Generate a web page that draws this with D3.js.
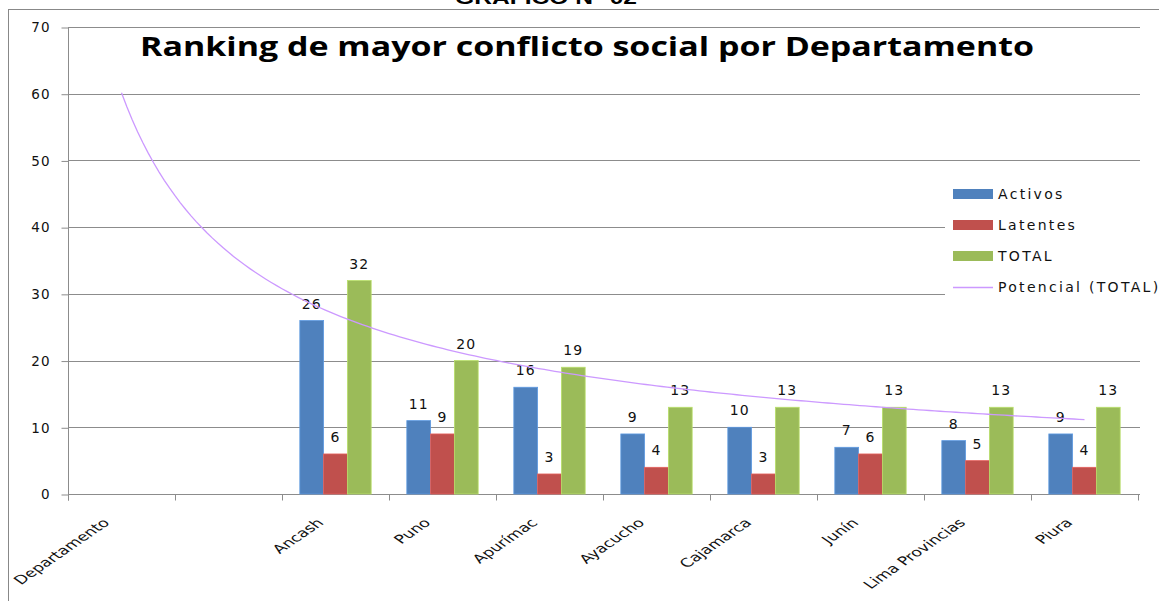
<!DOCTYPE html>
<html>
<head>
<meta charset="utf-8">
<script src="https://cdn.jsdelivr.net/npm/d3@7"></script>
<style>
  body { margin: 0; background: #fff; }
  svg { display: block; }
</style>
</head>
<body>
<script>
const categories = ['Departamento', '', 'Ancash', 'Puno', 'Apurímac', 'Ayacucho', 'Cajamarca', 'Junín', 'Lima Provincias', 'Piura'],
    activos = [null, null, 26, 11, 16, 9, 10, 7, 8, 9],
    latentes = [null, null, 6, 9, 3, 4, 3, 6, 5, 4],
    total = [null, null, 32, 20, 19, 13, 13, 13, 13, 13],
    yTicks = [0, 10, 20, 30, 40, 50, 60, 70],
    seriesNames = ['Activos', 'Latentes', 'TOTAL'],
    trendName = 'Potencial (TOTAL)';

const width = 1159,
    height = 601,
    plot = { left: 68, right: 1138, top: 27, bottom: 494 },
    colors = ['#4f81bd', '#c0504d', '#9bbb59'],
    trendColor = '#cc99ff',
    gridColor = '#8c8c8c',
    stretch = 1.45, // the scan is wider than tall, labels look stretched
    font = '"DejaVu Sans", Verdana, sans-serif';

const svg = d3.select('body').append('svg')
    .attr('width', width)
    .attr('height', height);

// top caption, cut by the page edge like in the scan
svg.append('text')
    .text('GRÁFICO N° 02')
    .attr('x', 455)
    .attr('y', 4)
    .attr('textLength', 182)
    .attr('lengthAdjust', 'spacingAndGlyphs')
    .attr('font-family', '"Liberation Sans", Arial, sans-serif')
    .attr('font-weight', 'bold')
    .attr('font-size', 19);

// chart frame
svg.append('rect')
    .attr('x', 8.5)
    .attr('y', 9.5)
    .attr('width', width)
    .attr('height', height)
    .attr('fill', 'none')
    .attr('stroke', '#888')
    .attr('stroke-width', 1);

const x = d3.scaleBand()
    .domain(d3.range(categories.length))
    .range([plot.left, plot.right])
    .paddingInner(0)
    .paddingOuter(0);

const y = d3.scaleLinear()
    .domain([0, 70])
    .range([plot.bottom, plot.top]);

const barW = x.bandwidth() / 4.5;

// gridlines
svg.append('g')
    .selectAll('line')
    .data(yTicks.filter(t => t > 0))
    .enter()
    .append('line')
    .attr('x1', plot.left)
    .attr('x2', plot.right + 2)
    .attr('y1', d => Math.round(y(d)) + 0.5)
    .attr('y2', d => Math.round(y(d)) + 0.5)
    .attr('stroke', gridColor)
    .attr('stroke-width', 1.2);

// y axis
const yAxis = svg.append('g')
    .attr('transform', 'translate(' + (plot.left + 0.5) + ',0.5)')
    .call(d3.axisLeft(y).tickValues(yTicks).tickSize(7).tickPadding(11).tickFormat(d3.format('d')));

yAxis.select('.domain').attr('stroke', gridColor).attr('d', 'M0,' + plot.top + 'V' + (plot.bottom + 6));
yAxis.selectAll('.tick line').attr('stroke', gridColor);
yAxis.selectAll('.tick text')
    .attr('font-family', font)
    .attr('font-size', 13.5)
    .attr('letter-spacing', 1)
    .attr('fill', '#111');

// x axis
const xAxis = svg.append('g').attr('transform', 'translate(0,' + (plot.bottom + 0.5) + ')');

xAxis.append('line')
    .attr('x1', plot.left)
    .attr('x2', plot.right + 2)
    .attr('stroke', gridColor)
    .attr('stroke-width', 1.2);

xAxis.selectAll('line.tick')
    .data(d3.range(categories.length + 1))
    .enter()
    .append('line')
    .classed('tick', true)
    .attr('x1', d => Math.round(plot.left + d * x.bandwidth()) + 0.5)
    .attr('x2', d => Math.round(plot.left + d * x.bandwidth()) + 0.5)
    .attr('y1', 0)
    .attr('y2', 6)
    .attr('stroke', gridColor);

xAxis.selectAll('text')
    .data(categories)
    .enter()
    .append('text')
    .text(d => d)
    .attr('transform', (d, i) => 'translate(' + (x(i) + x.bandwidth() / 2 - 11) + ',29) scale(' + stretch + ',1) rotate(-45)')
    .attr('text-anchor', 'end')
    .attr('font-family', font)
    .attr('font-size', 12)
    .attr('fill', '#111');

// bars
const seriesData = [activos, latentes, total];

seriesData.forEach(function (values, s) {
    const g = svg.append('g').classed('series-' + s, true);
    const pts = values.map((v, i) => ({ i: i, v: v })).filter(d => d.v !== null);

    g.selectAll('rect')
        .data(pts)
        .enter()
        .append('rect')
        .attr('x', d => x(d.i) + barW * 0.75 + s * barW)
        .attr('y', d => y(d.v))
        .attr('width', barW)
        .attr('height', d => y(0) - y(d.v))
        .attr('fill', colors[s])
        .attr('stroke', d3.color(colors[s]).brighter(0.5))
        .attr('stroke-width', 0.8);

    g.selectAll('text')
        .data(pts)
        .enter()
        .append('text')
        .text(d => d.v)
        .attr('x', d => x(d.i) + barW * 1.25 + s * barW)
        .attr('y', d => y(d.v) - 12)
        .attr('text-anchor', 'middle')
        .attr('font-family', font)
        .attr('font-size', 14)
        .attr('letter-spacing', 1)
        .attr('fill', '#111');
});

// power trendline of TOTAL, fitted as Excel does (x = 1..n)
const fitPts = total.map((v, i) => ({ xv: i + 1, yv: v })).filter(d => d.yv !== null && d.yv > 0);
const mx = d3.mean(fitPts, d => Math.log(d.xv)),
    my = d3.mean(fitPts, d => Math.log(d.yv)),
    b = d3.sum(fitPts, d => (Math.log(d.xv) - mx) * (Math.log(d.yv) - my)) /
        d3.sum(fitPts, d => Math.pow(Math.log(d.xv) - mx, 2)),
    a = Math.exp(my - b * mx);

const xIdx = d3.scaleLinear()
    .domain([1, categories.length])
    .range([x(0) + x.bandwidth() / 2, x(categories.length - 1) + x.bandwidth() / 2]);

const trendPts = d3.range(1, categories.length + 0.001, 0.05).map(t => [t, a * Math.pow(t, b)]);

svg.append('path')
    .datum(trendPts)
    .attr('d', d3.line().x(d => xIdx(d[0])).y(d => y(d[1])))
    .attr('fill', 'none')
    .attr('stroke', trendColor)
    .attr('stroke-width', 1.3);

// title
svg.append('text')
    .text('Ranking de mayor conflicto social por Departamento')
    .attr('x', 140)
    .attr('y', 56)
    .attr('textLength', 894)
    .attr('lengthAdjust', 'spacingAndGlyphs')
    .attr('font-family', '"Open Sans", sans-serif')
    .attr('font-weight', 'bold')
    .attr('font-size', 27)
    .attr('fill', '#000');

// legend
const legend = svg.append('g');

legend.append('rect')
    .attr('x', 945)
    .attr('y', 172)
    .attr('width', 220)
    .attr('height', 132)
    .attr('fill', '#fff');

const legendItems = seriesNames.concat([trendName]);

legendItems.forEach(function (name, i) {
    const ly = 194 + i * 31;
    if (i < 3) {
        legend.append('rect')
            .attr('x', 953)
            .attr('y', ly - 5)
            .attr('width', 40)
            .attr('height', 10)
            .attr('fill', colors[i]);
    } else {
        legend.append('line')
            .attr('x1', 953)
            .attr('x2', 993)
            .attr('y1', ly + 0.5)
            .attr('y2', ly + 0.5)
            .attr('stroke', trendColor)
            .attr('stroke-width', 1.3);
    }
    legend.append('text')
        .text(name)
        .attr('x', 998)
        .attr('y', ly + 5)
        .attr('font-family', font)
        .attr('font-size', 14)
        .attr('letter-spacing', 2.3)
        .attr('fill', '#111');
});
</script>
</body>
</html>
